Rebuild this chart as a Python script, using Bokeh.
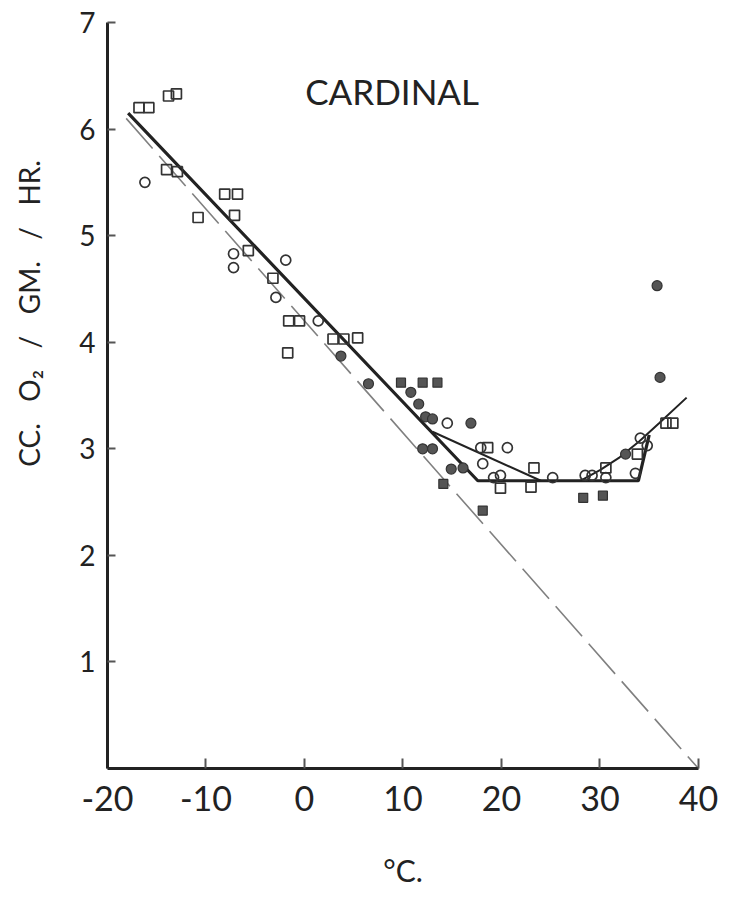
import math
from bokeh.plotting import figure
from bokeh.models import Range1d, FixedTicker
from bokeh.core.properties import value
from bokeh.embed import file_html
from bokeh.resources import INLINE

# ---- data ----
x_ticks = [-20, -10, 0, 10, 20, 30, 40]
x_tick_text = ["-20", "-10", "0", "10", "20", "30", "40"]
y_ticks = [1, 2, 3, 4, 5, 6, 7]

open_sq_x = [-16.8, -15.8, -13.8, -13.0, -14.0, -12.9, -8.1, -6.8, -7.1, -10.8, -5.7, -3.2,
             -1.6, -0.5, -1.7, 2.9, 4.0, 5.4, 18.6, 23.0, 23.3, 36.7, 37.4, 30.6, 19.9, 33.8]
open_sq_y = [6.20, 6.20, 6.31, 6.33, 5.62, 5.60, 5.39, 5.39, 5.19, 5.17, 4.86, 4.60,
             4.20, 4.20, 3.90, 4.03, 4.03, 4.04, 3.01, 2.64, 2.82, 3.24, 3.24, 2.82, 2.63, 2.95]

open_ci_x = [-16.2, -7.2, -7.2, -1.9, -2.9, 1.4, 14.5, 18.1, 19.2, 20.6, 17.9, 25.2,
             28.5, 29.2, 30.6, 34.1, 34.8, 33.6, 19.9]
open_ci_y = [5.50, 4.83, 4.70, 4.77, 4.42, 4.20, 3.24, 2.86, 2.73, 3.01, 3.01, 2.73,
             2.75, 2.75, 2.73, 3.10, 3.03, 2.77, 2.75]

fill_ci_x = [3.7, 6.5, 10.8, 11.6, 12.3, 13.0, 16.9, 12.0, 13.0, 14.9, 16.1, 35.8, 36.1, 32.6]
fill_ci_y = [3.87, 3.61, 3.53, 3.42, 3.30, 3.28, 3.24, 3.00, 3.00, 2.81, 2.82, 4.53, 3.67, 2.95]

fill_sq_x = [9.8, 12.0, 13.5, 14.1, 18.1, 28.3, 30.3]
fill_sq_y = [3.62, 3.62, 3.62, 2.67, 2.42, 2.54, 2.56]

main_x = [-17.9, 17.6, 33.9, 35.0]
main_y = [6.15, 2.70, 2.70, 3.13]

branch_x = [13.0, 24.0]
branch_y = [3.16, 2.70]

upper_x = [28.0, 30.0, 32.0, 34.0, 36.0, 38.8]
upper_y = [2.70, 2.80, 2.92, 3.07, 3.24, 3.48]

dash_x = [-18.1, 40.0]
dash_y = [6.10, 0.0]

x_axis_span = (-20, 40)
y_axis_span = (0, 7)

FONT = "Lato"
INK = "#222222"
GAP = " \u00a0\u00a0"
y_title = "CC." + GAP + "O₂" + GAP + "/" + GAP + "GM." + GAP + "/" + GAP + "HR."

# frame covers the whole canvas; the axes are drawn at fixed data locations
p = figure(width=721, height=897, x_range=Range1d(-30.86, 42.34), y_range=Range1d(-1.21, 7.206),
           output_backend="svg", toolbar_location=None,
           min_border_left=0, min_border_right=0, min_border_top=0, min_border_bottom=0)
p.grid.visible = False
p.outline_line_color = None
p.background_fill_color = "white"
p.border_fill_color = "white"

p.xaxis.fixed_location = 0
p.yaxis.fixed_location = -20
p.xaxis.bounds = x_axis_span
p.yaxis.bounds = y_axis_span

for ax in (p.xaxis[0], p.yaxis[0]):
    ax.axis_line_color = INK
    ax.axis_line_width = 3
    ax.major_tick_line_color = "#555555"
    ax.major_tick_line_width = 2
    ax.major_tick_out = 0
    ax.minor_tick_line_color = None
    ax.major_label_text_font = FONT
    ax.major_label_text_color = INK

p.xaxis.ticker = FixedTicker(ticks=x_ticks)
p.xaxis.major_label_overrides = {t: s for t, s in zip(x_ticks, x_tick_text)}
p.yaxis.ticker = FixedTicker(ticks=y_ticks)
p.xaxis.major_tick_in = 10
p.yaxis.major_tick_in = 8
p.xaxis.major_label_text_font_size = "34px"
p.yaxis.major_label_text_font_size = "28px"
p.xaxis.major_label_standoff = 17
p.yaxis.major_label_standoff = 12

p.xaxis.axis_label = "°C."
p.xaxis.axis_label_text_font = FONT
p.xaxis.axis_label_text_font_style = "normal"
p.xaxis.axis_label_text_font_size = "30px"
p.xaxis.axis_label_text_color = INK
p.xaxis.axis_label_standoff = 38

# lines
p.line(dash_x, dash_y, line_color="#808080", line_width=1.6, line_dash="40 10")
p.line(main_x, main_y, line_color=INK, line_width=3.2)
p.line(branch_x, branch_y, line_color=INK, line_width=2)
p.line(upper_x, upper_y, line_color=INK, line_width=2)

# points
p.scatter(open_sq_x, open_sq_y, marker="square", size=10, fill_color="white", fill_alpha=0.0,
          line_color="#333333", line_width=1.7)
p.scatter(open_ci_x, open_ci_y, marker="circle", size=10, fill_color="white", fill_alpha=0.0,
          line_color="#333333", line_width=1.7)
p.scatter(fill_ci_x, fill_ci_y, marker="circle", size=10, fill_color="#555555",
          line_color="#333333", line_width=1.2)
p.scatter(fill_sq_x, fill_sq_y, marker="square", size=9, fill_color="#555555",
          line_color="#333333", line_width=1.2)

# title inside the plot
p.text(x=[8.9], y=[6.36], text=["CARDINAL"], text_font=value(FONT), text_font_size="35px",
       text_align="center", text_baseline="middle", text_color=INK)

# rotated y-axis title
p.text(x=[-28.0], y=[4.27], text=[y_title], angle=math.pi / 2, text_font=value(FONT),
       text_font_size="28px", text_align="center", text_baseline="middle", text_color=INK)

open("out.html", "w").write(file_html(p, INLINE))
